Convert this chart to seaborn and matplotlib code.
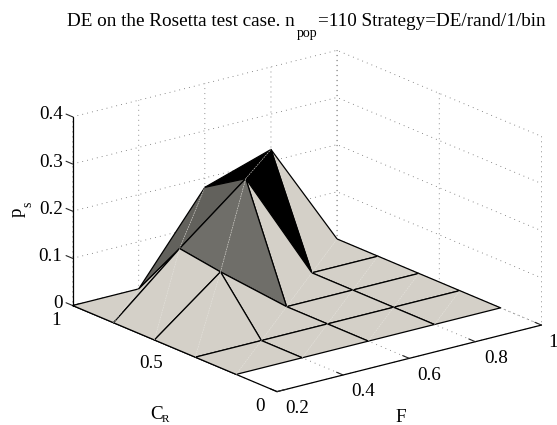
import numpy as np
import seaborn as sns
import matplotlib
matplotlib.use("Agg")
import matplotlib.pyplot as plt
from mpl_toolkits.mplot3d import proj3d

# Values
f_values = [0.2, 0.4, 0.6, 0.8, 1.0]
cr_values = [0.2, 0.4, 0.6, 0.8, 1.0]
ps_cr02 = [0, 0, 0, 0, 0]
ps_cr04 = [0, 0, 0, 0, 0]
ps_cr06 = [0, 0.109, 0, 0, 0]
ps_cr08 = [0, 0.122, 0.235, 0, 0]
ps_cr10 = [0, 0, 0.18, 0.225, 0]

f_ticks = [0.2, 0.4, 0.6, 0.8, 1.0]
f_labels = ["0.2", "0.4", "0.6", "0.8", "1"]
cr_ticks = [0, 0.5, 1]
cr_labels = ["0", "0.5", "1"]
ps_ticks = [0, 0.1, 0.2, 0.3, 0.4]
ps_labels = ["0", "0.1", "0.2", "0.3", "0.4"]

sns.set_theme(style="white")
plt.rcParams["font.family"] = ["Liberation Serif", "DejaVu Serif"]

F, CR = np.meshgrid(f_values, cr_values)
Z = np.array([ps_cr02, ps_cr04, ps_cr06, ps_cr08, ps_cr10])

# Face colours, most of the surface is flat and light
faces = np.empty((4, 4, 4))
faces[:, :] = matplotlib.colors.to_rgba("#d4d0c8")
faces[2, 1] = matplotlib.colors.to_rgba("#6f6e69")  # CR .6-.8, F .4-.6
faces[3, 1] = matplotlib.colors.to_rgba("#62615c")  # CR .8-1, F .4-.6
faces[3, 2] = matplotlib.colors.to_rgba("#000000")  # CR .8-1, F .6-.8

fig = plt.figure(figsize=(5.57, 4.25), dpi=100)
ax = fig.add_axes([88.8 / 557, -14.2 / 425, 425 / 557, 1], projection="3d", proj_type="ortho")
ax.computed_zorder = False
ax.view_init(elev=19, azim=-127.7)
ax.set_box_aspect((1, 1, 0.597), zoom=1.172)

surf = ax.plot_surface(F, CR, Z, facecolors=faces, edgecolor="black", linewidth=0.9,
                       rstride=1, cstride=1, shade=False, zorder=2)
surf.set_clip_on(False)

# Thin light diagonals of the triangulated mesh
for j in range(4):
    for i in range(4):
        line, = ax.plot([f_values[i], f_values[i + 1]], [cr_values[j], cr_values[j + 1]],
                        [Z[j, i], Z[j + 1, i + 1]], color="#e6e4de", lw=0.4, ls=(0, (3, 1.5)), zorder=3)
        line.set_clip_on(False)

ax.set_xlim(0.2, 1)
ax.set_ylim(0, 1)
ax.set_zlim(0, 0.4)
ax.set_xticks(f_ticks)
ax.set_xticklabels([""] * len(f_ticks))
ax.set_yticks(cr_ticks)
ax.set_yticklabels([""] * len(cr_ticks))
ax.set_zticks(ps_ticks)
ax.set_zticklabels([""] * len(ps_ticks))

for axis in [ax.xaxis, ax.yaxis, ax.zaxis]:
    axis.set_pane_color((1, 1, 1, 0))
    axis.pane.set_edgecolor((1, 1, 1, 0))
    axis.line.set_color("black")
    axis.line.set_linewidth(0.9)
    axis.line.set_clip_on(False)
    axis._axinfo["grid"].update(color="#666666", linestyle=(0, (1, 5)), linewidth=0.6)
    axis._axinfo["tick"].update(inward_factor=0.0, outward_factor=0.4, linewidth={True: 0.8, False: 0.5})
ax.grid(True)

# z ticks lean along the CR direction in the original
ax.zaxis._get_tickdir = lambda pos: 1


# Tick labels placed from their tick, mplot3d's own ones can't be aligned like the original
def tick_label(x, y, z, text, dx, dy, ha):
    px, py, _ = proj3d.proj_transform(x, y, z, ax.get_proj())
    ax.annotate(text, xy=(px, py), xytext=(dx, dy), textcoords="offset pixels", ha=ha, va="center",
                fontsize=13.8, color="black", annotation_clip=False)


for value, text in zip(f_ticks, f_labels):
    tick_label(value, 0, 0, text, 6.5 if text == "1" else 8.5, -17, "left")
for value, text in zip(cr_ticks, cr_labels):
    tick_label(0.2, value, 0, text, -12, -15, "right")
for value, text in zip(ps_ticks, ps_labels):
    tick_label(0.2, 1, value, text, -10, 2, "right")

# Title and axis labels are split so the subscripts sit low like the original
fig.text(67 / 557, 1 - 26 / 425, "DE on the Rosetta test case. n", fontsize=13.8, color="black")
fig.text(297 / 557, 1 - 37 / 425, "pop", fontsize=10, color="black")
fig.text(318 / 557, 1 - 26 / 425, "=110 Strategy=DE/rand/1/bin", fontsize=13.8, color="black")
fig.text(17 / 557, 1 - 212.5 / 425, "p", fontsize=13.8, rotation=90, ha="center", va="center", color="black")
fig.text(28 / 557, 1 - 204 / 425, "s", fontsize=10, rotation=90, ha="center", va="center", color="black")
fig.text(150 / 557, 1 - 419 / 425, "C", fontsize=13.8, color="black")
fig.text(162 / 557, 1 - 424.5 / 425, "R", fontsize=8, va="bottom", color="black")
fig.text(401 / 557, 1 - 417 / 425, "F", fontsize=13.8, ha="center", va="center", color="black")

fig.savefig("out.png", dpi=100)
